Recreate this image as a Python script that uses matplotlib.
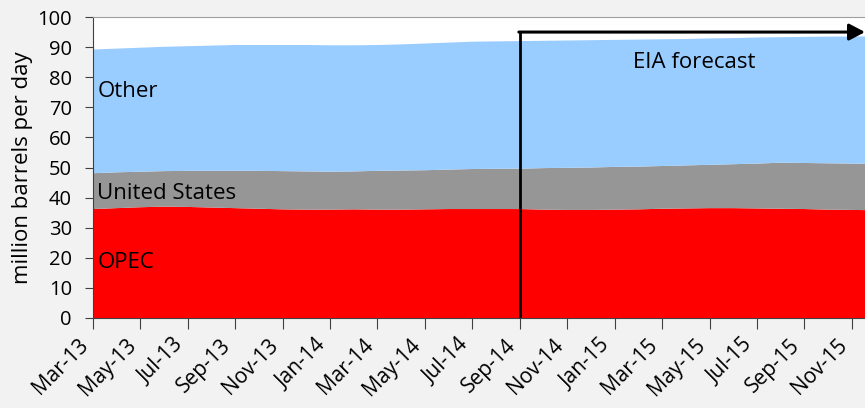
import matplotlib
matplotlib.use("Agg")
import matplotlib.pyplot as plt
import matplotlib.transforms as mtrans
import numpy as np
import pandas as pd

plt.rcParams['font.family'] = ['Open Sans', 'DejaVu Sans']

# monthly data, Mar-13 .. Dec-15 (million barrels per day)
months = pd.date_range('2013-03-01', periods=34, freq='MS').strftime('%b-%y').tolist()
opec = [36.2, 36.5, 36.8, 37.0, 36.9, 36.7, 36.5, 36.3, 36.1, 36.0, 36.0, 36.1,
        36.0, 36.0, 36.1, 36.2, 36.2, 36.2, 36.2, 36.0, 35.9, 35.9, 36.0, 36.1,
        36.3, 36.4, 36.5, 36.5, 36.4, 36.3, 36.2, 36.0, 35.9, 35.8]
us = [11.9, 11.9, 11.8, 11.8, 12.0, 12.2, 12.4, 12.6, 12.7, 12.7, 12.6, 12.6,
      12.9, 13.0, 13.0, 13.1, 13.3, 13.4, 13.4, 13.8, 14.0, 14.1, 14.2, 14.2,
      14.2, 14.3, 14.4, 14.6, 14.9, 15.3, 15.3, 15.4, 15.4, 15.4]
other = [41.1, 41.1, 41.2, 41.3, 41.4, 41.6, 41.8, 41.8, 41.9, 42.0, 42.0, 41.9,
         41.8, 41.9, 42.1, 42.2, 42.3, 42.3, 42.4, 42.3, 42.3, 42.3, 42.2, 42.2,
         42.1, 42.0, 42.0, 41.9, 41.9, 41.7, 41.9, 42.1, 42.2, 42.4]
forecast_start = 'Sep-14'
arrow_level = 95

x = np.arange(len(months))

fig = plt.figure(figsize=(8.65, 4.08), dpi=100, facecolor='#f2f2f2')
ax = fig.add_axes([0.1072, 0.2206, 0.8928, 0.7377])
ax.set_facecolor('white')

ax.stackplot(x, opec, us, other, colors=['#ff0000', '#969696', '#99ccff'], linewidth=0)

ax.set_xlim(0, 32.55)
ax.set_ylim(0, 100)
ax.set_yticks(np.arange(0, 101, 10))
ax.set_xticks(x[::2])
ax.set_xticklabels(months[::2], rotation=45, ha='right', va='top', fontsize=15)
# shift the rotated labels a little left and down
shift = mtrans.ScaledTranslation(-7 / 100, -26 / 100, fig.dpi_scale_trans)
for lbl in ax.get_xticklabels():
    lbl.set_transform(lbl.get_transform() + shift)
ax.tick_params(axis='y', labelsize=14.5, length=6, pad=9, color='#404040')
ax.tick_params(axis='x', length=8, pad=4, color='#404040')

ax.spines['right'].set_visible(False)
ax.spines['top'].set_color('#a0a0a0')
ax.spines['left'].set_color('#404040')
ax.spines['bottom'].set_color('#404040')

ax.set_ylabel('million barrels per day', fontsize=16, labelpad=3)

# labels inside the areas
ax.text(0.2, 73.4, 'Other', fontsize=16, va='baseline')
ax.text(0.2, 39.5, 'United States', fontsize=16, va='baseline')
ax.text(0.2, 16.5, 'OPEC', fontsize=16, va='baseline')

# forecast marker
fx = months.index(forecast_start)
ax.plot([fx, fx], [0, arrow_level], color='black', lw=2, solid_capstyle='butt')
ax.annotate('', xy=(32.55, arrow_level), xytext=(fx - 0.04, arrow_level),
            arrowprops=dict(arrowstyle='-|>,head_length=0.95,head_width=0.5',
                            color='black', lw=2.2, shrinkA=0, shrinkB=0),
            annotation_clip=False)
ax.text(25.34, 83.2, 'EIA forecast', fontsize=16, ha='center', va='baseline')

fig.savefig('out.png', dpi=100, facecolor=fig.get_facecolor())
